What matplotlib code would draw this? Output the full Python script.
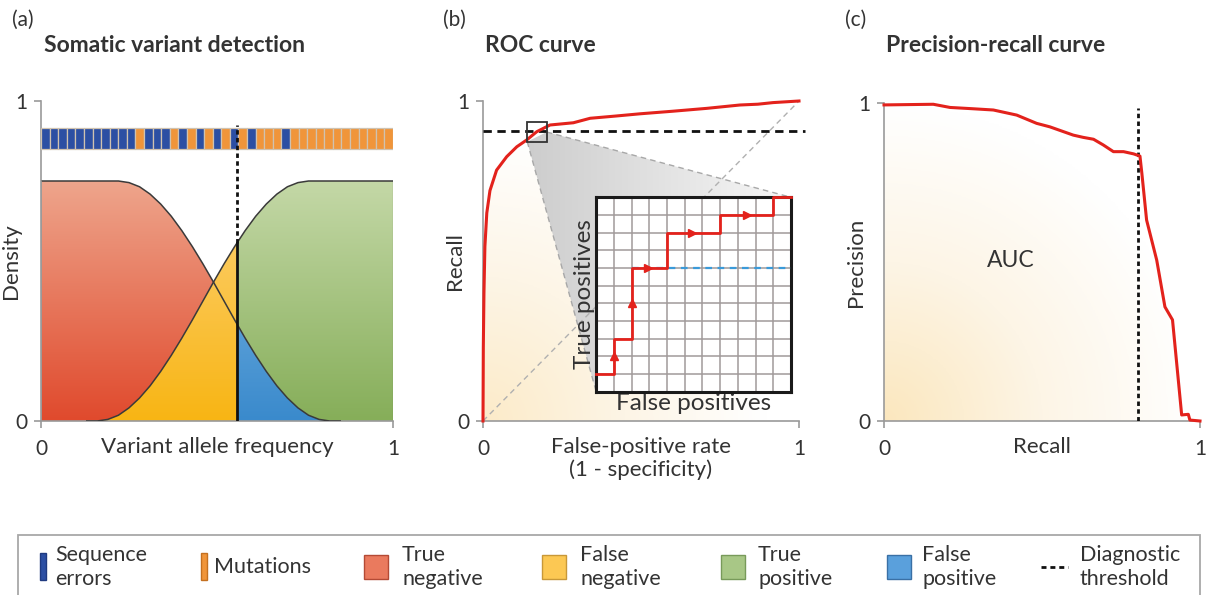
import numpy as np
import matplotlib
matplotlib.use("Agg")
import matplotlib.pyplot as plt
from matplotlib.colors import LinearSegmentedColormap
from matplotlib.patches import Rectangle, Polygon

plt.rcParams['font.family'] = ['Lato', 'DejaVu Sans']

W, H = 1213, 595
TXT = '#333333'
RED = '#e3221c'

# ---------------- data ----------------
# panel (a): squares in the top strip (B = sequence error, O = mutation)
strip = "BBBBBBBBBBBOBBBOBOBOBOBOBOOOBOOOOOOOOOOOO"
vaf_threshold = 0.557

# true-negative density (red) and true-positive density (green)
tn_x = [0.00, 0.22, 0.25, 0.28, 0.31, 0.34, 0.37, 0.40, 0.43, 0.46, 0.49,
        0.52, 0.55, 0.58, 0.61, 0.64, 0.67, 0.70, 0.73, 0.76, 0.79, 0.82]
tn_y = [0.75, 0.75, 0.745, 0.732, 0.709, 0.678, 0.640, 0.595, 0.545, 0.491,
        0.434, 0.375, 0.316, 0.259, 0.205, 0.155, 0.110, 0.072, 0.041,
        0.018, 0.005, 0.0]
tp_x = [0.16, 0.19, 0.22, 0.25, 0.28, 0.31, 0.34, 0.37, 0.40, 0.43, 0.46,
        0.49, 0.52, 0.55, 0.58, 0.61, 0.64, 0.67, 0.70, 0.73, 0.76, 1.00]
tp_y = [0.0, 0.005, 0.018, 0.041, 0.072, 0.110, 0.155, 0.205, 0.259, 0.316,
        0.375, 0.434, 0.491, 0.545, 0.595, 0.640, 0.678, 0.709, 0.732,
        0.745, 0.75, 0.75]

# panel (b): ROC curve
roc_fpr = [0.0, 0.001, 0.003, 0.006, 0.012, 0.022, 0.043, 0.075, 0.107,
           0.138, 0.17, 0.212, 0.286, 0.339, 0.42, 0.497, 0.60, 0.708,
           0.813, 0.87, 0.918, 1.0]
roc_tpr = [0.0, 0.23, 0.40, 0.545, 0.65, 0.72, 0.784, 0.826, 0.857, 0.878,
           0.904, 0.925, 0.932, 0.946, 0.953, 0.96, 0.968, 0.977, 0.9875,
           0.99, 0.995, 1.0]
roc_threshold = 0.906
zoom_box = [0.14, 0.873, 0.062, 0.06]       # x, y, w, h
inset_box = [0.358, 0.092, 0.975, 0.699]    # x0, y0, x1, y1 (data of panel b)

# inset step path (grid units)
step_fp = [0, 1, 1, 2, 2, 4, 4, 7, 7, 10, 10, 11]
step_tp = [1, 1, 3, 3, 7, 7, 9, 9, 10, 10, 11, 11]
up_x, up_y = [1, 2], [2, 5]
right_x, right_y = [2.9, 5.4, 8.5], [7, 9, 10]
inset_threshold = 7

# panel (c): precision-recall curve
pr_recall = [0.0, 0.156, 0.209, 0.28, 0.346, 0.42, 0.483, 0.525, 0.599,
             0.63, 0.663, 0.694, 0.726, 0.758, 0.79, 0.81, 0.816, 0.831,
             0.863, 0.889, 0.913, 0.942, 0.963, 0.968, 1.0]
pr_precision = [0.994, 0.996, 0.986, 0.982, 0.978, 0.962, 0.936, 0.925,
                 0.899, 0.892, 0.886, 0.868, 0.847, 0.847, 0.84, 0.833,
                 0.779, 0.632, 0.506, 0.359, 0.318, 0.019, 0.021, 0.003, 0.0]
pr_threshold = 0.805

legend_labels = ["Sequence\nerrors", "Mutations", "True\nnegative",
                 "False\nnegative", "True\npositive", "False\npositive",
                 "Diagnostic\nthreshold"]

# ---------------- helpers ----------------
fig = plt.figure(figsize=(W / 100, H / 100), dpi=100)


def add_ax(x0, top, x1, bottom, **kw):
    return fig.add_axes([x0 / W, 1 - bottom / H, (x1 - x0) / W, (bottom - top) / H], **kw)


def ftext(px, py, s, **kw):
    kw.setdefault('color', TXT)
    return fig.text(px / W, 1 - py / H, s, **kw)


def style(ax):
    for s in ['top', 'right']:
        ax.spines[s].set_visible(False)
    for s in ['left', 'bottom']:
        ax.spines[s].set_color('#9a9a9a')
        ax.spines[s].set_linewidth(1.2)
    ax.set_xlim(0, 1)
    ax.set_ylim(0, 1)
    ax.set_xticks([0, 1], ['0', '1'])
    ax.set_yticks([0, 1], ['0', '1'])
    ax.tick_params(length=5, width=1.2, color='#9a9a9a', labelsize=15,
                   labelcolor=TXT, pad=5)
    ax.tick_params(axis='x', pad=8)
    ax.patch.set_alpha(0)


def vgrad(ax, clip, extent, c_top, c_bot, z):
    cmap = LinearSegmentedColormap.from_list('g', [c_bot, c_top])
    im = ax.imshow(np.linspace(0, 1, 200).reshape(-1, 1), cmap=cmap,
                   extent=extent, origin='lower', aspect='auto', zorder=z)
    im.set_clip_path(clip)


def hgrad(ax, clip, extent, c_left, c_right, z):
    cmap = LinearSegmentedColormap.from_list('h', [c_left, c_right])
    im = ax.imshow(np.linspace(0, 1, 200).reshape(1, -1), cmap=cmap,
                   extent=extent, origin='lower', aspect='auto', zorder=z)
    im.set_clip_path(clip)


def radial(ax, clip, z, c0='#fbe6bd', reach=1.0):
    g = np.linspace(0, 1, 200)
    gx, gy = np.meshgrid(g, g)
    r = np.clip(np.hypot(gx, gy) / reach, 0, 1)
    cmap = LinearSegmentedColormap.from_list('r', [c0, '#fdf5e6', '#ffffff'])
    im = ax.imshow(r, cmap=cmap, extent=[0, 1, 0, 1], origin='lower',
                   aspect='auto', zorder=z)
    im.set_clip_path(clip)


def clip_poly(ax, verts):
    p = Polygon(verts, closed=True, facecolor='none', edgecolor='none',
                transform=ax.transData)
    ax.add_patch(p)
    return p


# ---------------- panel (a) ----------------
axa = add_ax(41, 101, 393, 421)
style(axa)

red_clip = clip_poly(axa, list(zip(tn_x, tn_y)) + [(tn_x[-1], 0), (0, 0)])
green_clip = clip_poly(axa, [(tp_x[0], 0)] + list(zip(tp_x, tp_y)) + [(1, 0)])
thr = vaf_threshold
vgrad(axa, red_clip, [0, thr, 0, 0.75], '#eea58c', '#e04a2d', 1)
vgrad(axa, green_clip, [0, thr, 0, 0.75], '#fdd277', '#f8b514', 2)
vgrad(axa, green_clip, [thr, 1, 0, 0.75], '#c4d8a7', '#86ae59', 1)
vgrad(axa, red_clip, [thr, 1, 0, 0.75], '#86bde8', '#3a8acc', 2)
axa.plot(tn_x + [tn_x[-1] + 0.03], tn_y + [0], color='#3a3a3a', lw=1.1, zorder=3)
axa.plot([tp_x[0] - 0.03] + tp_x, [0] + tp_y, color='#3a3a3a', lw=1.1, zorder=3)
axa.plot([0, 0], [0, 0.75], color='#9a9a9a', lw=1.2, zorder=4)
axa.plot([1, 1], [0, 0.75], color='#555555', lw=0.8, zorder=3)

g_thr = np.interp(thr, tp_x, tp_y)
axa.plot([thr, thr], [0, g_thr], color='#111111', lw=2, zorder=5)
axa.plot([thr, thr], [g_thr, 0.925], color='#111111', lw=2,
         ls=(0, (1.6, 1.2)), zorder=6)

n = len(strip)
centers = (np.arange(n) + 0.5) / n
cols = ['#2c4fa3' if c == 'B' else '#f0953a' for c in strip]
axa.bar(centers, 0.066, bottom=0.85, width=1 / n, color=cols,
        edgecolor='#cfc2b0', linewidth=0.9, zorder=4)
axa.set_ylim(0, 1)
axa.set_xlim(0, 1)
axa.set_ylabel('Density', fontsize=16, color=TXT, labelpad=-4)
axa.set_xlabel('Variant allele frequency', fontsize=16, color=TXT, labelpad=-16)

# ---------------- panel (b) ----------------
axb = add_ax(483, 101, 799, 421)
style(axb)
auc_clip = clip_poly(axb, list(zip(roc_fpr, roc_tpr)) + [(1, 0)])
radial(axb, auc_clip, 0, c0='#fcebc9', reach=0.9)

bx, by, bw, bh = zoom_box
ix0, iy0, ix1, iy1 = inset_box
wedge = clip_poly(axb, [(bx, by), (bx + bw, by + bh / 2), (ix1, iy1), (ix0, iy0)])
hgrad(axb, wedge, [bx, ix1, 0, 1], '#cdcdcd', '#f7f7f7', 1)
axb.plot([bx, ix0], [by, iy0], color='#a8a8a8', lw=1, ls=(0, (4, 3)), zorder=2)
axb.plot([bx + bw, ix1], [by + bh / 2, iy1], color='#a8a8a8', lw=1,
         ls=(0, (4, 3)), zorder=2)
axb.plot([0, 1], [0, 1], color='#b0b0b0', lw=1, ls=(0, (4, 3)), zorder=2)
axb.plot([0, 1.02], [roc_threshold, roc_threshold], color='#111111', lw=2,
         ls=(0, (3, 2)), zorder=4, clip_on=False)
axb.plot(roc_fpr, roc_tpr, color=RED, lw=2.2, zorder=5, clip_on=False)
axb.add_patch(Rectangle((bx, by), bw, bh, fill=False, edgecolor='#333333',
                        lw=1.3, zorder=6))
axb.set_ylabel('Recall', fontsize=16, color=TXT, labelpad=-6)
axb.set_xlabel('False-positive rate\n(1 - specificity)', fontsize=16,
               color=TXT, labelpad=-16, linespacing=1.15)

# inset
p0 = axb.transData.transform((ix0, iy0))
p1 = axb.transData.transform((ix1, iy1))
fw, fh = fig.bbox.width, fig.bbox.height
axi = fig.add_axes([p0[0] / fw, p0[1] / fh, (p1[0] - p0[0]) / fw,
                    (p1[1] - p0[1]) / fh])
axi.set_xlim(0, 11)
axi.set_ylim(0, 11)
axi.set_xticks(np.arange(12))
axi.set_yticks(np.arange(12))
axi.grid(True, color='#a09a9a', lw=1.1)
axi.tick_params(length=0, labelbottom=False, labelleft=False)
for s in axi.spines.values():
    s.set_linewidth(2.2)
    s.set_color('#1a1a1a')
axi.plot([2, 11], [inset_threshold, inset_threshold], color='#3a9ad9', lw=1.6,
         ls=(0, (3, 2.5)), zorder=3)
axi.plot(step_fp, step_tp, color=RED, lw=2, zorder=4, clip_on=False)
axi.plot(up_x, up_y, ls='none', marker='^', ms=6, color=RED, zorder=5)
axi.plot(right_x, right_y, ls='none', marker='>', ms=6, color=RED, zorder=5)
axi.set_ylabel('True positives', fontsize=17.5, color=TXT, labelpad=1)
axi.set_xlabel('False positives', fontsize=17.5, color=TXT, labelpad=1)

# ---------------- panel (c) ----------------
axc = add_ax(884, 103, 1200, 421)
style(axc)
pr_clip = clip_poly(axc, list(zip(pr_recall, pr_precision)) + [(1, 0), (0, 0)])
radial(axc, pr_clip, 0, c0='#fbe7be', reach=1.0)
axc.plot([pr_threshold, pr_threshold], [0, 0.985], color='#111111', lw=2,
         ls=(0, (1.6, 1.2)), zorder=4)
axc.plot(pr_recall, pr_precision, color=RED, lw=2.2, zorder=5, clip_on=False)
axc.text(0.4, 0.505, 'AUC', fontsize=16.5, color=TXT, ha='center', va='center')
axc.set_ylabel('Precision', fontsize=16, color=TXT, labelpad=-6)
axc.set_xlabel('Recall', fontsize=16, color=TXT, labelpad=-16)

# ---------------- titles ----------------
ftext(12, 20, '(a)', fontsize=15, va='center')
ftext(44, 46, 'Somatic variant detection', fontsize=16.5, weight='bold', va='center')
ftext(443, 20, '(b)', fontsize=15, va='center')
ftext(485, 46, 'ROC curve', fontsize=16.5, weight='bold', va='center')
ftext(845, 20, '(c)', fontsize=15, va='center')
ftext(886, 46, 'Precision-recall curve', fontsize=16.5, weight='bold', va='center')

# ---------------- legend ----------------
fig.patches.append(Rectangle((18 / W, 1 - 600 / H), 1182 / W, 65 / H,
                             transform=fig.transFigure, fill=False,
                             edgecolor='#a8a8a8', lw=1.3))


def fbox(x0, y0, x1, y1, fc, ec):
    fig.patches.append(Rectangle((x0 / W, 1 - y1 / H), (x1 - x0) / W, (y1 - y0) / H,
                                 transform=fig.transFigure, facecolor=fc,
                                 edgecolor=ec, lw=1))


fbox(40, 553, 46, 580, '#2c4fa3', '#1f3a80')
fbox(201, 553, 207, 580, '#f0953a', '#c47020')
fbox(364, 555, 388, 579, '#ea7a5e', '#b44a35')
fbox(542, 555, 566, 579, '#fcc853', '#c89838')
fbox(721, 555, 745, 579, '#a8c786', '#789a5a')
fbox(887, 555, 911, 579, '#5aa0dc', '#3a70a5')
fig.lines.append(plt.Line2D([1041 / W, 1068 / W], [1 - 567 / H, 1 - 567 / H],
                            transform=fig.transFigure, color='#111111', lw=2,
                            ls=(0, (1.8, 1.4))))
label_x = [55, 214, 402, 580, 758, 922, 1080]
for lx, lab in zip(label_x, legend_labels):
    ftext(lx, 567, lab, fontsize=15.5, va='center', linespacing=1.2)

fig.savefig('out.png', dpi=100)
